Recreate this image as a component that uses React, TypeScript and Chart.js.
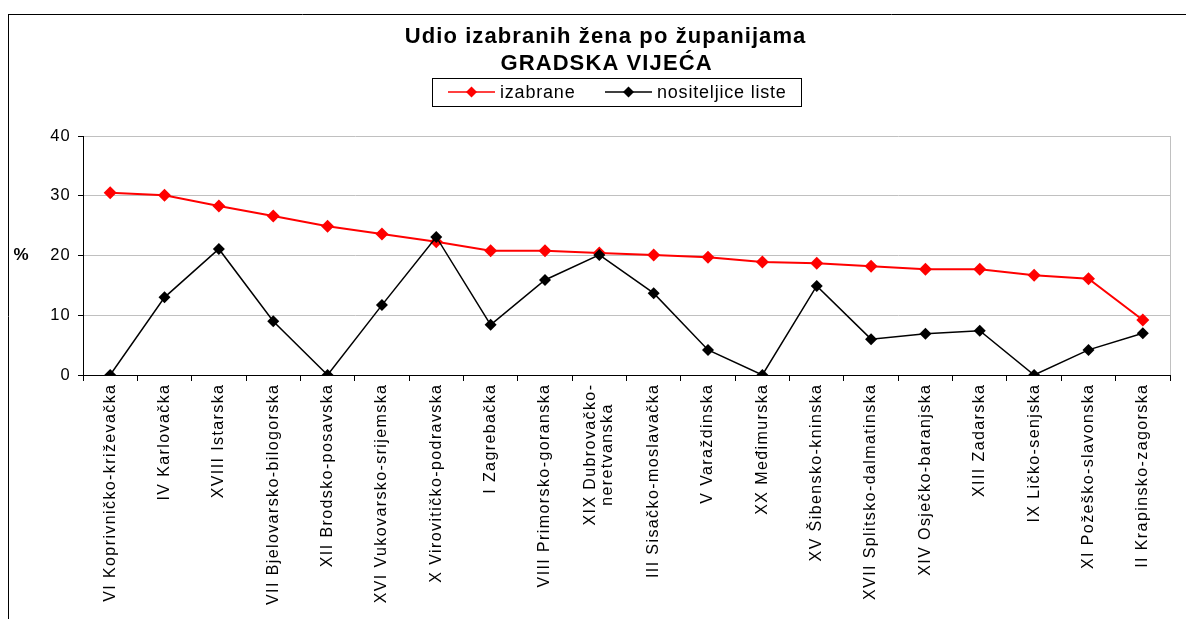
import React, { useEffect, useRef } from 'react';
import { Chart, registerables } from 'chart.js';

Chart.register(...registerables);

const counties: (string | string[])[] = [
  'VI Koprivničko-križevačka',
  'IV Karlovačka',
  'XVIII Istarska',
  'VII Bjelovarsko-bilogorska',
  'XII Brodsko-posavska',
  'XVI Vukovarsko-srijemska',
  'X Virovitičko-podravska',
  'I Zagrebačka',
  'VIII Primorsko-goranska',
  ['XIX Dubrovačko-', 'neretvanska'],
  'III Sisačko-moslavačka',
  'V Varaždinska',
  'XX Međimurska',
  'XV Šibensko-kninska',
  'XVII Splitsko-dalmatinska',
  'XIV Osječko-baranjska',
  'XIII Zadarska',
  'IX Ličko-senjska',
  'XI Požeško-slavonska',
  'II Krapinsko-zagorska',
];

const izabrane = [30.5, 30.1, 28.3, 26.6, 24.9, 23.6, 22.3, 20.8, 20.8, 20.4, 20.1, 19.7, 18.9, 18.7, 18.2, 17.7, 17.7, 16.7, 16.1, 9.2];
const nositeljice = [0, 13.0, 21.1, 9.0, 0, 11.7, 23.1, 8.4, 15.9, 20.1, 13.7, 4.2, 0, 14.9, 6.0, 6.9, 7.4, 0, 4.2, 7.0];

const seriesNames = ['izabrane', 'nositeljice liste'];
const titleLines = ['Udio izabranih žena po županijama', 'GRADSKA VIJEĆA'];
const yAxisLabel = '%';
const yMin = 0;
const yMax = 40;
const yStep = 10;

const FONT = '"Liberation Sans", Arial, Helvetica, sans-serif';

function setSpacing(ctx: any, v: string) {
  if ('letterSpacing' in ctx) ctx.letterSpacing = v;
}

const decorPlugin = {
  id: 'decor',
  beforeDraw(chart: any) {
    const ctx = chart.ctx;
    ctx.save();
    ctx.fillStyle = '#ffffff';
    ctx.fillRect(0, 0, chart.width, chart.height);
    ctx.strokeStyle = '#000000';
    ctx.lineWidth = 1;
    ctx.beginPath();
    ctx.moveTo(8, 14.5);
    ctx.lineTo(chart.width, 14.5);
    ctx.moveTo(8.5, 14);
    ctx.lineTo(8.5, chart.height);
    ctx.stroke();
    ctx.restore();
    // letter spacing for y tick labels drawn by Chart.js
    setSpacing(ctx, '1.2px');
  },
  afterDraw(chart: any) {
    const ctx = chart.ctx;
    const area = chart.chartArea;
    setSpacing(ctx, '0px');
    ctx.save();
    // right plot border
    ctx.strokeStyle = '#c0c0c0';
    ctx.lineWidth = 1;
    ctx.beginPath();
    ctx.moveTo(Math.round(area.right) + 0.5, area.top);
    ctx.lineTo(Math.round(area.right) + 0.5, area.bottom);
    ctx.stroke();

    // title
    ctx.fillStyle = '#000000';
    ctx.textAlign = 'center';
    ctx.textBaseline = 'middle';
    ctx.font = `bold 22px ${FONT}`;
    setSpacing(ctx, '1.1px');
    ctx.fillText(titleLines[0], 605 + 0.55, 37);
    ctx.fillText(titleLines[1], 606 + 0.55, 64);

    // y label
    setSpacing(ctx, '0px');
    ctx.font = `bold 17px ${FONT}`;
    ctx.fillText(yAxisLabel, 21, 255);

    // legend
    ctx.strokeStyle = '#000000';
    ctx.lineWidth = 1;
    ctx.strokeRect(432.5, 78.5, 369, 28);
    const startXs = [448, 605];
    const ly = 92;
    chart.data.datasets.forEach((ds: any, i: number) => {
      const x0 = startXs[i];
      ctx.strokeStyle = ds.borderColor;
      ctx.lineWidth = 1.5;
      ctx.beginPath();
      ctx.moveTo(x0, ly);
      ctx.lineTo(x0 + 47, ly);
      ctx.stroke();
      ctx.fillStyle = ds.pointBackgroundColor;
      const cx = x0 + 23.5;
      const r = 5.5;
      ctx.beginPath();
      ctx.moveTo(cx, ly - r);
      ctx.lineTo(cx + r, ly);
      ctx.lineTo(cx, ly + r);
      ctx.lineTo(cx - r, ly);
      ctx.closePath();
      ctx.fill();
      ctx.fillStyle = '#000000';
      ctx.textAlign = 'left';
      ctx.font = `18px ${FONT}`;
      setSpacing(ctx, '0.8px');
      ctx.fillText(ds.label, x0 + 52, ly + 1);
      setSpacing(ctx, '0px');
    });

    // x category labels, rotated
    const xs = chart.scales.x;
    const spacing = 1.4;
    ctx.font = `16px ${FONT}`;
    setSpacing(ctx, `${spacing}px`);
    ctx.fillStyle = '#000000';
    ctx.textBaseline = 'middle';
    const top = xs.top + 10;
    const lineH = 17;
    const labels: (string | string[])[] = chart.data.labels;
    labels.forEach((lab, i) => {
      const x = xs.getPixelForValue(i);
      const lines = Array.isArray(lab) ? lab : [lab];
      const widths = lines.map((l) => ctx.measureText(l).width);
      const maxW = Math.max(...widths);
      ctx.save();
      ctx.translate(x, top);
      ctx.rotate(-Math.PI / 2);
      ctx.textAlign = 'right';
      lines.forEach((l, k) => {
        const off = (k - (lines.length - 1) / 2) * lineH;
        const shift = (maxW - widths[k]) / 2;
        ctx.fillText(l, spacing - shift, off);
      });
      ctx.restore();
    });
    setSpacing(ctx, '0px');
    ctx.restore();
  },
};

export default function App() {
  const canvasRef = useRef<HTMLCanvasElement | null>(null);

  useEffect(() => {
    if (!canvasRef.current) return;
    const chart = new Chart(canvasRef.current, {
      type: 'line',
      data: {
        labels: counties as any,
        datasets: [
          {
            label: seriesNames[0],
            data: izabrane,
            borderColor: '#ff0000',
            backgroundColor: '#ff0000',
            pointBackgroundColor: '#ff0000',
            pointBorderColor: '#ff0000',
            borderWidth: 2,
            pointStyle: 'rectRot',
            pointRadius: 6.5,
            pointBorderWidth: 0,
            tension: 0,
            order: 1,
          },
          {
            label: seriesNames[1],
            data: nositeljice,
            borderColor: '#000000',
            backgroundColor: '#000000',
            pointBackgroundColor: '#000000',
            pointBorderColor: '#000000',
            borderWidth: 1.5,
            pointStyle: 'rectRot',
            pointRadius: 6,
            pointBorderWidth: 0,
            tension: 0,
            order: 0,
          },
        ],
      },
      options: {
        responsive: false,
        animation: false,
        devicePixelRatio: 1,
        layout: { padding: { top: 136, left: 0, right: 16, bottom: 0 } },
        plugins: {
          legend: { display: false },
          title: { display: false },
          tooltip: { enabled: false },
        },
        scales: {
          x: {
            type: 'category',
            offset: true,
            grid: {
              offset: true,
              drawOnChartArea: false,
              drawTicks: true,
              tickLength: 6,
              tickColor: '#000000',
            },
            border: { color: '#000000', width: 1 },
            ticks: {
              display: false,
              autoSkip: false,
            },
            afterFit(scale: any) {
              scale.height = 244;
            },
          },
          y: {
            min: yMin,
            max: yMax,
            grid: {
              color: '#c0c0c0',
              tickLength: 5,
              tickColor: '#000000',
            },
            border: { color: '#000000', width: 1 },
            ticks: {
              stepSize: yStep,
              padding: 7,
              color: '#000000',
              font: { family: FONT, size: 16.5 },
            },
            afterFit(scale: any) {
              scale.width = 83;
            },
          },
        },
      },
      plugins: [decorPlugin],
    });
    return () => chart.destroy();
  }, []);

  return (
    <div style={{ position: 'absolute', left: 0, top: 0, width: 1186, height: 619, background: '#fff' }}>
      <canvas ref={canvasRef} width={1186} height={619} style={{ display: 'block' }} />
    </div>
  );
}
